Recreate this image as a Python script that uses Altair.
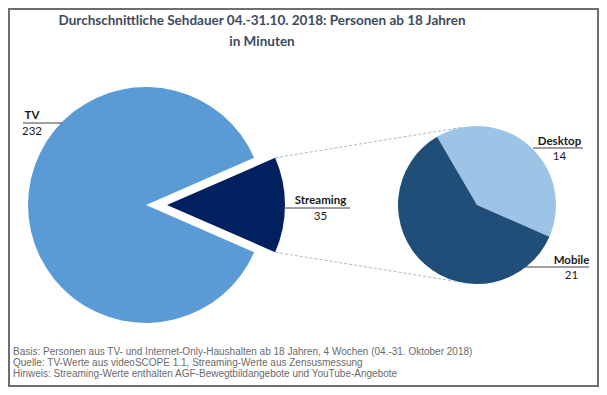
import math
import altair as alt
import pandas as pd

# ---- data ----
left_categories = ["Streaming", "TV"]
left_values = [35, 232]
right_categories = ["Desktop", "Mobile"]
right_values = [14, 21]

title_lines = ["Durchschnittliche  Sehdauer 04.-31.10. 2018: Personen ab 18 Jahren", "in Minuten"]
footer_lines = [
    "Basis: Personen aus TV- und Internet-Only-Haushalten  ab 18 Jahren, 4 Wochen (04.-31. Oktober 2018)",
    "Quelle: TV-Werte aus videoSCOPE 1.1, Streaming-Werte aus Zensusmessung",
    "Hinweis:  Streaming-Werte enthalten AGF-Bewegtbildangebote  und YouTube-Angebote",
]

# ---- layout ----
W, H = 591, 379
LCX, LCY, LR, EXPL = 138, 197, 118, 21
RCX, RCY, RR = 469, 197, 79

colors = {"TV": "#5B9BD5", "Streaming": "#002060", "Desktop": "#9DC3E6", "Mobile": "#1F4E79"}
LABEL_FONT = "Lato"

left_df = pd.DataFrame({"cat": left_categories, "val": left_values, "idx": range(len(left_values))})
right_df = pd.DataFrame({"cat": right_categories, "val": right_values, "idx": range(len(right_values))})

frac = left_values[0] / sum(left_values)
lstart = math.pi / 2 - frac * math.pi
lrange = [lstart, lstart + 2 * math.pi]
rstart = math.radians(-30.4)
rrange = [rstart, rstart + 2 * math.pi]

dummy = alt.Data(values=[{"a": 1}])

def pie(df, cx, cy, r, rng, show):
    return alt.Chart(df).mark_arc(radius=r, x=cx, y=cy).encode(
        theta=alt.Theta("val:Q", stack=True, scale=alt.Scale(range=rng)),
        order=alt.Order("idx:Q"),
        color=alt.Color("cat:N", scale=alt.Scale(domain=list(colors.keys()), range=list(colors.values())), legend=None),
        opacity=alt.condition(alt.FieldOneOfPredicate(field="cat", oneOf=show), alt.value(1), alt.value(0)),
    )

background = alt.Chart(dummy).mark_rect(fill="white", stroke="#6E6E6E", strokeWidth=2).encode(
    x=alt.value(1), x2=alt.value(W - 1), y=alt.value(1), y2=alt.value(H - 1)
)

tv_layer = pie(left_df, LCX, LCY, LR, lrange, ["TV"])
st_layer = pie(left_df, LCX + EXPL, LCY, LR, lrange, ["Streaming"])
right_layer = pie(right_df, RCX, RCY, RR, rrange, right_categories)

# connector lines (derived from pie geometry)
a0, a1 = lstart, lstart + frac * 2 * math.pi
sx = LCX + EXPL
p_top = (sx + LR * math.sin(a0), LCY - LR * math.cos(a0))
p_bot = (sx + LR * math.sin(a1), LCY - LR * math.cos(a1))
q_top_a, q_bot_a = math.radians(-10), math.radians(194)
q_top = (RCX + RR * math.sin(q_top_a), RCY - RR * math.cos(q_top_a))
q_bot = (RCX + RR * math.sin(q_bot_a), RCY - RR * math.cos(q_bot_a))

def seg(p, q, color, dash=None, width=1):
    kw = dict(color=color, strokeWidth=width)
    if dash:
        kw["strokeDash"] = dash
    return alt.Chart(dummy).mark_rule(**kw).encode(
        x=alt.value(p[0]), y=alt.value(p[1]), x2=alt.value(q[0]), y2=alt.value(q[1])
    )

conn = [seg(p_top, q_top, "#A9B8CC", [3, 2]), seg(p_bot, q_bot, "#A9B8CC", [3, 2])]

def txt(s, x, y, size, bold=False, align="center", color="#1a1a1a", font=LABEL_FONT):
    return alt.Chart(dummy).mark_text(
        text=s, align=align, baseline="middle", fontSize=size,
        fontWeight="bold" if bold else "normal", color=color, font=font,
    ).encode(x=alt.value(x), y=alt.value(y))

labels = []
# (name, value, center x, name y, underline x1, x2, underline y, value y)
label_specs = [
    (left_categories[1], left_values[1], 24, 108, 15, 54, 115, 124),
    (left_categories[0], left_values[0], 312.5, 193, 275, 342, 200, 209),
    (right_categories[0], right_values[0], 551.5, 134, 525, 575, 140, 149),
    (right_categories[1], right_values[1], 563.5, 253, 517, 581, 259, 268),
]
for name, val, cx, ny, ux1, ux2, uy, vy in label_specs:
    labels.append(txt(name, cx, ny, 11.5, bold=True))
    labels.append(seg((ux1, uy), (ux2, uy), "#404040"))
    labels.append(txt(str(val), cx, vy, 11.5))

title = [
    txt(title_lines[0], 254, 13, 13.5, bold=True, color="#3B4A5E"),
    txt(title_lines[1], 254, 34, 13.5, bold=True, color="#3B4A5E"),
]
footer = [
    txt(line, 5, 344 + 11 * i, 10, align="left", color="#6A6A6A", font="Liberation Sans")
    for i, line in enumerate(footer_lines)
]

chart = alt.layer(
    background, tv_layer, st_layer, right_layer, *conn, *labels, *title, *footer
).resolve_scale(theta="independent", color="independent", opacity="independent").properties(
    width=W, height=H, autosize=alt.AutoSizeParams(type="none"), padding=0
).configure_view(stroke=None).configure(background="white")

chart.save("out.html", embed_options={"renderer": "svg", "actions": False})
